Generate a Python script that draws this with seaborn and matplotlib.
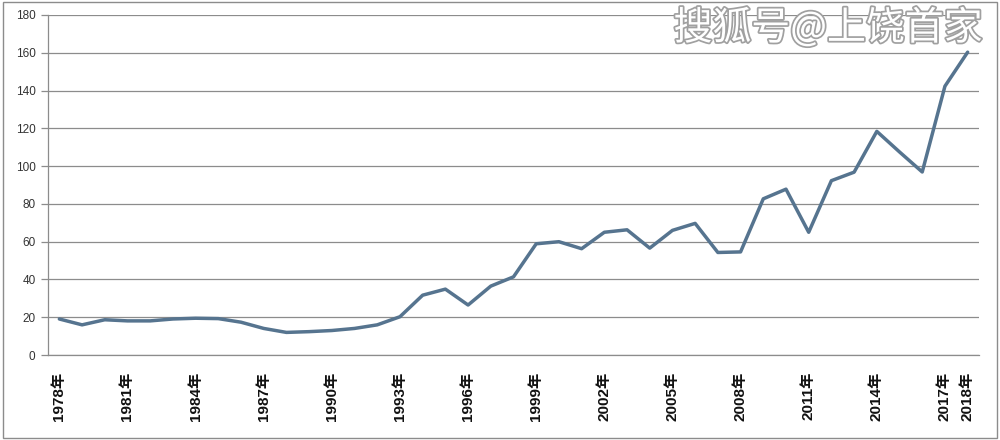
import numpy as np
import pandas as pd
import matplotlib
matplotlib.use('Agg')
import matplotlib.pyplot as plt
import matplotlib.patheffects as pe
from matplotlib.patches import Rectangle
import seaborn as sns

years = list(range(1978, 2019))
values = [19.1, 16.0, 18.7, 18.1, 18.1, 19.1, 19.5, 19.3, 17.4, 14.1,
          12.0, 12.4, 13.0, 14.1, 16.0, 20.3, 31.7, 34.9, 26.5, 36.5,
          41.4, 58.9, 60.0, 56.3, 65.0, 66.3, 56.6, 66.0, 69.7, 54.3,
          54.6, 82.7, 87.8, 65.0, 92.3, 96.8, 118.4, 107.5, 96.9, 142.3,
          160.3]
label_years = [1978, 1981, 1984, 1987, 1990, 1993, 1996, 1999, 2002, 2005,
               2008, 2011, 2014, 2017, 2018]
y_ticks = [0, 20, 40, 60, 80, 100, 120, 140, 160, 180]
watermark = '搜狐号@上饶首家'

df = pd.DataFrame({'pos': np.arange(len(years)), 'year': years, 'value': values})

sns.set_style('white')
plt.rcParams['font.family'] = ['Liberation Sans', 'Noto Sans CJK SC', 'DejaVu Sans']

fig = plt.figure(figsize=(10, 4.4), dpi=100)
ax = fig.add_axes([0.048, 0.193, 0.931, 0.773])

grid_col = '#8c8c8c'
sns.lineplot(data=df, x='pos', y='value', ax=ax, color='#56748f', linewidth=2.5)

ax.set_xlim(-0.5, len(years) - 0.5)
ax.set_ylim(0, 180)
ax.set_yticks(y_ticks)
ax.set_yticklabels([str(v) for v in y_ticks], fontsize=8.5, color='#333333')
ax.yaxis.grid(True, color=grid_col, linewidth=0.9)
ax.set_axisbelow(True)

# labels only on every third year plus the last one
lab_pos = [years.index(y) for y in label_years]
ax.set_xticks(lab_pos)
ax.set_xticklabels([f'{y}年' for y in label_years], rotation=90, fontsize=11,
                   fontweight='bold', color='#111111')
ax.set_xticks(np.arange(-0.5, len(years)), minor=True)
ax.tick_params(axis='x', which='major', length=0, pad=12)
ax.tick_params(axis='x', which='minor', length=5, color=grid_col, width=0.9)
ax.tick_params(axis='y', which='major', length=5, color=grid_col, width=0.9, left=True, pad=4)

for s in ['top', 'right']:
    ax.spines[s].set_visible(False)
for s in ['left', 'bottom']:
    ax.spines[s].set_color(grid_col)
    ax.spines[s].set_linewidth(0.9)

ax.set_xlabel('')
ax.set_ylabel('')

fig.text(0.828, 0.935, watermark, fontsize=28, color='white', ha='center', va='center',
         family=['Noto Sans CJK SC', 'DejaVu Sans'],
         path_effects=[pe.withStroke(linewidth=2.5, foreground='#a0a0a0')])

fig.patches.append(Rectangle((0.003, 0.005), 0.994, 0.99, transform=fig.transFigure,
                             fill=False, edgecolor='#8c8c8c', linewidth=1))

fig.savefig('out.png', dpi=100)
